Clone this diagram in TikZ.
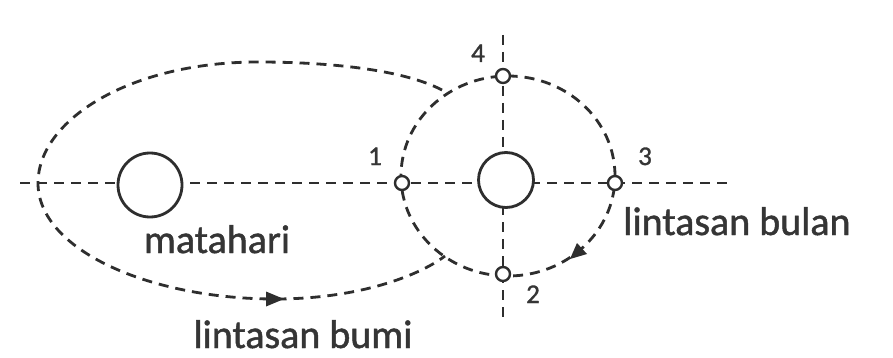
\documentclass[tikz,border=0pt]{standalone}
\usepackage{fontspec}
\setmainfont{Carlito}[AutoFakeBold=1.2]
\definecolor{ink}{HTML}{2E2E2E}
\definecolor{txt}{HTML}{353535}
\begin{document}
\begin{tikzpicture}[x=1pt,y=-1pt,
  orbit/.style={line width=2.8pt, draw=ink, dash pattern=on 10pt off 7pt},
  body/.style={circle, line width=2.8pt, draw=ink, fill=white, inner sep=0pt},
  pt/.style={circle, line width=2.4pt, draw=ink, fill=white, minimum size=14pt, inner sep=0pt},
  lbl/.style={font=\fontsize{40}{48}\selectfont\bfseries, text=txt, inner sep=0pt, anchor=base},
  num/.style={font=\fontsize{27}{32}\selectfont\bfseries, text=txt, inner sep=0pt, anchor=base}]
\useasboundingbox[fill=white] (0,0) rectangle (893,358);
% axes
\coordinate (hl) at (20,183);
\coordinate (hr) at (727,183);
\coordinate (vt) at (503,35);
\coordinate (vb) at (503,318);
\draw[orbit] (hl) -- (hr);
\draw[orbit] (vt) -- (vb);
% moon orbit
\draw[orbit] (508,176) ellipse [x radius=107pt, y radius=100pt];
% earth orbit
\draw[orbit] (442,90) .. controls (400,68) and (320,62) .. (258,62)
  .. controls (130,62) and (38,120) .. (38,183)
  .. controls (38,250) and (150,299) .. (275,299)
  .. controls (360,299) and (420,275) .. (445,256);
% arrowheads
\fill[ink] (284,299) -- (266,291.5) -- (266,306.5) -- cycle;
\fill[ink] (570,259) -- (587,254) -- (577,243) -- cycle;
% bodies
\node[body, minimum size=64pt] (sun) at (150,185) {};
\node[body, minimum size=55pt] (earth) at (506,180) {};
% positions
\node[pt] (p1) at (402,183) {};
\node[pt] (p3) at (615,183) {};
\node[pt] (p4) at (503,76) {};
\node[pt] (p2) at (503,274) {};
% labels
\node[num] (n4) at (478,62) {4};
\node[num] (n1) at (375,165) {1};
\node[num] (n3) at (645,165) {3};
\node[num] (n2) at (533,303) {2};
\node[lbl] (lsun) at (217,253) {matahari};
\node[lbl] (lbumi) at (303,348) {lintasan bumi};
\node[lbl] (lbulan) at (737,235) {lintasan bulan};
\end{tikzpicture}
\end{document}
